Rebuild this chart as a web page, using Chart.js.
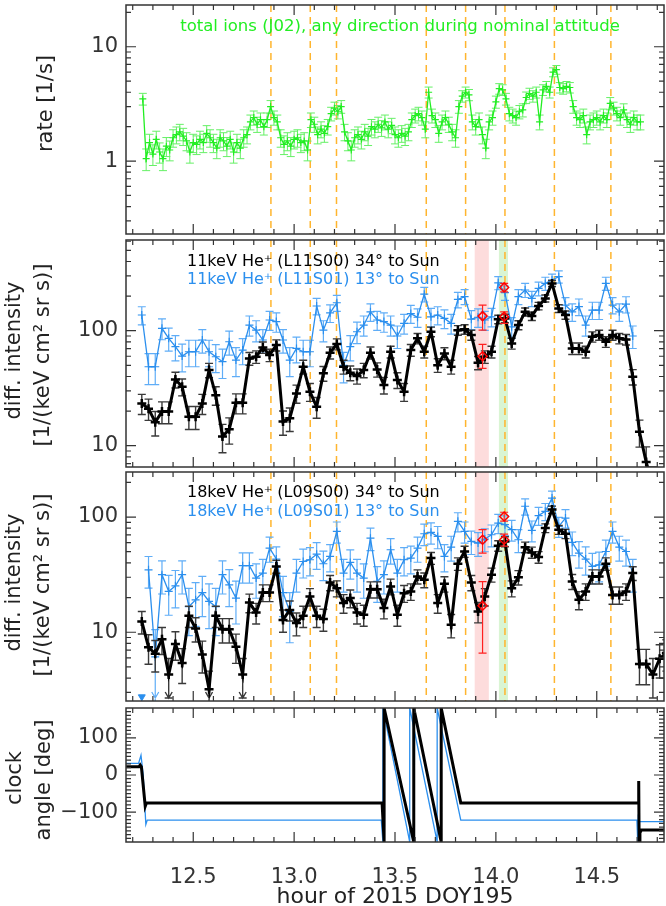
<!DOCTYPE html>
<html>
<head>
<meta charset="utf-8">
<title>DOY195 He+ intensities</title>
<script src="https://cdn.jsdelivr.net/npm/chart.js@4.4.1/dist/chart.umd.min.js"></script>
<style>
    body { margin: 0; background: #fff; }
    #page { position: relative; width: 666px; height: 906px; overflow: hidden; }
    .panel { position: absolute; left: 0; width: 666px; }
</style>
</head>
<body>
<div id="page">
    <div class="panel" style="top:1px;height:237px"><canvas id="rate-chart"></canvas></div>
    <div class="panel" style="top:236px;height:235px"><canvas id="he11-chart"></canvas></div>
    <div class="panel" style="top:468px;height:237px"><canvas id="he18-chart"></canvas></div>
    <div class="panel" style="top:704px;height:202px"><canvas id="clock-chart"></canvas></div>
</div>
<script>
// time axis (hour of day)
const X_MIN = 12.1667;
const X_MAX = 14.8333;
const HOUR_TICKS = [12.5, 13.0, 13.5, 14.0, 14.5];
const EVENT_HOURS = [12.885, 13.08, 13.21, 13.655, 13.85, 14.045, 14.29, 14.57];
const PINK_BAND = [13.895, 13.965];
const GREEN_BAND = [14.015, 14.06];

// J02 total ions, 1 minute cadence
const RATE_START = 12.25;
const RATE_STEP = 1 / 60;
const rateValues = [
    3.5, 1.05, 1.45, 1.15, 1.55, 1.2, 1.05, 1.35, 1.25, 1.6,
    1.7, 1.8, 1.65, 1.5, 1.2, 1.45, 1.4, 1.55, 1.45, 1.75,
    1.6, 1.45, 1.3, 1.6, 1.5, 1.35, 1.55, 1.2, 1.45, 1.3,
    1.6, 1.7, 2.2, 2.4, 2.1, 2.3, 2.0, 2.3, 3.0, 2.4,
    2.2, 1.6, 1.4, 1.5, 1.35, 1.55, 1.6, 1.45, 1.5, 1.25,
    2.3, 2.1, 1.7, 1.9, 1.75, 2.0, 2.6, 2.9, 2.7, 3.0,
    1.8, 1.5, 1.25, 1.6, 1.7, 1.55, 1.8, 1.65, 2.0, 1.9,
    2.1, 1.95, 2.2, 1.9, 2.05, 1.7, 1.6, 1.75, 1.65, 1.8,
    2.3, 2.5, 2.6, 2.4, 1.9, 4.0, 2.5, 2.3, 1.75, 2.2,
    2.4, 2.1, 1.8, 1.6, 3.0, 3.7, 4.0, 3.8, 2.2, 2.0,
    2.3, 1.7, 1.3, 2.2, 2.4, 3.3, 4.3, 4.2, 3.5, 2.6,
    2.5, 2.4, 2.7, 2.8, 3.6, 3.9, 3.7, 4.0, 2.2, 4.2,
    4.5, 4.0, 6.0, 6.3, 4.4, 4.3, 4.5, 4.4, 3.0, 2.4,
    2.3, 2.5, 1.7, 2.2, 2.3, 2.4, 2.2, 2.5, 2.3, 3.2,
    2.9, 2.6, 2.4, 2.8, 2.3, 2.1, 2.4, 2.2, 2.2
];

// He+ sector sweeps, 2 minute cadence
const SWEEP_START = 12.245;
const SWEEP_STEP = 1 / 30;
const he11Sun34 = [
    23.3, 21, 16, 19.8, 19.8, 37.7, 32.6, 17.9, 17.9, 23.3,
    45.5, 27.5, 12, 13.9, 23.6, 23.6, 57.4, 59.4, 71.6, 61.4,
    75, 16.2, 17.3, 28.5, 48.6, 29.5, 21.8, 42.6, 64.4, 76.6,
    48.6, 43, 40.4, 45.5, 64.4, 46, 33.7, 65.6, 37.3, 29.5,
    67.9, 85.8, 65.6, 98, 50.2, 63.5, 48.6, 101, 103, 91.7,
    52.7, 59.4, 65.6, 125.6, 128, 77.6, 112, 146, 134, 164,
    191, 258, 156, 137, 70.2, 70.2, 65.6, 88.7, 91.7, 80.2,
    91.7, 85.8, 84, 39.8, 13.2, 7.2, 4.5
];
const he11Sun13 = [
    137, 48.6, 48.6, 105, 85.8, 72.6, 60.2, 65.6, 65.6, 83,
    65.6, 59.4, 53.8, 80.2, 55.6, 67.9, 112, 101, 83, 124,
    120, 83, 55.6, 70.2, 65.6, 65.6, 164, 101, 143, 175,
    50, 72.6, 98, 112, 146, 124, 120, 112, 90, 116,
    141, 131, 208, 132, 137, 128, 116, 187, 198, 126,
    131, 124, 132, 261, 214, 108, 198, 226, 191, 233,
    258, 276, 295, 167, 146, 162, 112, 151, 151, 258,
    167, 146, 170, 90
];
const he18Sun34 = [
    12.4, 7.4, 6.5, 8.7, 4.3, 7.9, 5.4, 13.9, 10.8, 6.4,
    3.2, 13.9, 10.6, 10.6, 7.5, 4.3, 18.1, 14.8, 22.1, 22.1,
    37.3, 12.8, 15.6, 12, 13.9, 20.4, 13.9, 13, 27, 24.1,
    17.9, 19.8, 14.8, 14.2, 23.6, 23.6, 16.2, 25, 14.2, 21.8,
    22.6, 30.5, 28.5, 44, 17.9, 26.3, 11.6, 39.3, 50.2, 27,
    15.1, 20.4, 31.6, 56.4, 61.4, 24.1, 30, 54.8, 49.3, 44.9,
    80.2, 116, 77.6, 71.6, 27.6, 19.1, 22.6, 30.5, 30.5, 39.3,
    21.1, 21.1, 22.6, 32.6, 5.3, 5.3, 4.3, 5.9, 6.6
];
const he18Sun13 = [
    null, 34.8, 6.1, 31.6, 22.6, 25.3, 31.6, 16.7, 19.1, 22.1,
    18.5, 16.7, 31.6, 25.8, 19.8, 37.8, 37.8, 29.5, 32.6, 53.7,
    43.2, 22.1, 15.1, 32.6, 41.1, 42.6, 47.6, 39.3, 45.5, 75,
    32.6, 40.4, 32.6, 29.5, 65.6, 27.6, 31.6, 52, 32.6, 42.6,
    44, 53.7, 71.6, 73.6, 67.9, 45.5, 54.8, 91.7, 75, 61.4,
    59.4, 64.4, 70.2, 88.7, 85.8, 77.6, 63.5, 124, 76.6, 103,
    112, 146, 83, 98, 60.2, 48.6, 43.2, 37.3, 38.5, 50.2,
    75, 54.8, 50.2, 32.6
];
// points below the plotted range / upper limits
const he18Sun34Limits = [4, 10, 15];
const he18Sun13Limits = [2];
const he18Sun13Below = [{x: 12.245, y: 2.75}];

// highlighted samples (red diamonds) in the pink and green intervals
const markHours = [13.934, 13.934, 14.041, 14.041];
const he11Marks = [60, 134, 132, 238];
const he11MarksLo = [47, 101, 116, 218];
const he11MarksHi = [76, 167, 146, 258];
const he18Marks = [17, 63.5, 63.5, 101];
const he18MarksLo = [6.6, 48.6, 56, 92];
const he18MarksHi = [27.5, 77.6, 71, 110];

// clock angle of the two look directions
const clockHoursS00 = [12.1667, 12.231, 12.237, 12.243, 12.262, 12.268, 13.436, 13.446, 13.446, 13.593,
    13.593, 13.729, 13.729, 13.826, 14.705, 14.708, 14.710, 14.714, 14.721, 14.8333];
const clockS00 = [22, 22, 27, 22, -84, -75, -75, -180, 180, -180,
    180, -180, 180, -75, -75, -16, -180, -155, -148, -148];
const clockHoursS01 = [12.1667, 12.229, 12.241, 12.252, 12.265, 12.272, 13.432, 13.440, 13.440, 13.573,
    13.573, 13.709, 13.709, 13.826, 14.699, 14.703, 14.706, 14.712, 14.8333];
const clockS01 = [31, 31, 53, 0, -133, -121, -121, -180, 180, -180,
    180, -180, 180, -121, -121, -180, -106, -125, -125];

const FONT = 'DejaVu Sans';
const BLUE = '#2b8fee';
const GREEN = '#22ee22';

function sampled(start, step, values) {
    return values.map((v, i) => ({x: start + i * step, y: v}));
}

function pairs(xs, ys) {
    return xs.map((x, i) => ({x: x, y: ys[i]}));
}

function logMinor(min, max) {
    const out = [];
    for (let d = 0.1; d < 1000; d *= 10) {
        for (let k = 2; k <= 9; k++) {
            const v = Math.round(k * d * 1000) / 1000;
            if (v > min && v < max) out.push(v);
        }
    }
    return out;
}

const hourMinor = [];
for (let k = 122; k <= 148; k++) {
    if (k % 5 !== 0) hourMinor.push(k / 10);
}
const angleMinor = [];
for (let a = -170; a <= 170; a += 10) {
    if (a % 100 !== 0) angleMinor.push(a);
}

function noPadding(s) {
    s.paddingTop = 0;
    s.paddingBottom = 0;
    s.paddingLeft = 0;
    s.paddingRight = 0;
}

function drawErrors(chart, ds) {
    if (!ds.errColor) return;
    const {ctx, chartArea: a, scales: {x, y}} = chart;
    const cap = 4;
    ctx.save();
    ctx.beginPath();
    ctx.rect(a.left, a.top, a.width, a.height);
    ctx.clip();
    ctx.strokeStyle = ds.errColor;
    ctx.lineWidth = ds.errWidth || 1.2;
    ctx.beginPath();
    ds.data.forEach((p, i) => {
        if (p.y == null) return;
        let lo, hi;
        if (ds.errLo) {
            lo = ds.errLo[i];
            hi = ds.errHi[i];
        } else {
            // counting statistics: sigma grows with sqrt of the intensity
            const s = ds.errA * Math.sqrt(p.y);
            lo = p.y - s;
            hi = p.y + s;
        }
        const px = x.getPixelForValue(p.x);
        const top = y.getPixelForValue(hi);
        const bot = lo > 0 ? y.getPixelForValue(lo) : a.bottom + 20;
        ctx.moveTo(px, top);
        ctx.lineTo(px, bot);
        ctx.moveTo(px - cap, top);
        ctx.lineTo(px + cap, top);
        ctx.moveTo(px - cap, bot);
        ctx.lineTo(px + cap, bot);
    });
    (ds.arrows || []).forEach((i) => {
        const p = ds.data[i];
        const px = x.getPixelForValue(p.x);
        const end = a.bottom - 3;
        ctx.moveTo(px, y.getPixelForValue(p.y));
        ctx.lineTo(px, end);
        ctx.moveTo(px - 3.5, end - 6);
        ctx.lineTo(px, end);
        ctx.lineTo(px + 3.5, end - 6);
    });
    ctx.stroke();
    ctx.restore();
}

function decorPlugin(d) {
    return {
        id: 'decor',
        beforeDatasetsDraw(chart) {
            const {ctx, chartArea: a, scales: {x}} = chart;
            ctx.save();
            ctx.beginPath();
            ctx.rect(a.left, a.top, a.width, a.height);
            ctx.clip();
            (d.bands || []).forEach((b) => {
                const x0 = x.getPixelForValue(b.range[0]);
                const x1 = x.getPixelForValue(b.range[1]);
                ctx.fillStyle = b.color;
                ctx.fillRect(x0, a.top, x1 - x0, a.height);
            });
            if (d.dashes) {
                ctx.strokeStyle = '#ffb52e';
                ctx.lineWidth = 1.5;
                ctx.setLineDash([7, 5]);
                d.dashes.forEach((h) => {
                    const px = x.getPixelForValue(h);
                    ctx.beginPath();
                    ctx.moveTo(px, a.top);
                    ctx.lineTo(px, a.bottom);
                    ctx.stroke();
                });
            }
            ctx.restore();
        },
        beforeDatasetDraw(chart, args) {
            drawErrors(chart, chart.data.datasets[args.index]);
        },
        afterDraw(chart) {
            const {ctx, chartArea: a, scales: {x, y}} = chart;
            ctx.save();
            ctx.strokeStyle = '#333';
            ctx.lineWidth = 1.5;
            ctx.strokeRect(a.left, a.top, a.width, a.height);
            ctx.lineWidth = 1.2;
            ctx.beginPath();
            const xTick = (vals, len) => vals.forEach((v) => {
                const px = x.getPixelForValue(v);
                ctx.moveTo(px, a.bottom);
                ctx.lineTo(px, a.bottom - len);
                ctx.moveTo(px, a.top);
                ctx.lineTo(px, a.top + len);
            });
            const yTick = (vals, len) => vals.forEach((v) => {
                const py = y.getPixelForValue(v);
                ctx.moveTo(a.left, py);
                ctx.lineTo(a.left + len, py);
                ctx.moveTo(a.right, py);
                ctx.lineTo(a.right - len, py);
            });
            xTick(HOUR_TICKS, 10);
            xTick(hourMinor, 5);
            yTick(d.yMajor, 10);
            yTick(d.yMinor, 5);
            ctx.stroke();

            ctx.textBaseline = 'middle';
            (d.texts || []).forEach((t) => {
                ctx.font = t.size + 'px "' + FONT + '"';
                ctx.fillStyle = t.color;
                ctx.textAlign = t.align;
                ctx.fillText(t.text, t.x, a.top + t.dy);
            });
            ctx.fillStyle = '#222';
            ctx.font = '21px "' + FONT + '"';
            ctx.textAlign = 'center';
            d.yTitle.forEach((t) => {
                ctx.save();
                ctx.translate(t.x, a.top + t.dy);
                ctx.rotate(-Math.PI / 2);
                ctx.fillText(t.text, 0, 0);
                ctx.restore();
            });
            if (d.xTitle) {
                ctx.font = '22px "' + FONT + '"';
                ctx.fillText(d.xTitle, (a.left + a.right) / 2, a.top + d.xTitleDy);
            }
            ctx.restore();
        }
    };
}

function makePanel(id, d) {
    const fontTicks = {family: FONT, size: 21};
    return new Chart(document.getElementById(id), {
        type: 'line',
        data: {datasets: d.datasets},
        options: {
            animation: false,
            responsive: true,
            maintainAspectRatio: false,
            events: [],
            layout: {autoPadding: false, padding: {top: 4, bottom: d.showHours ? 0 : 4, left: 0, right: 2}},
            plugins: {legend: {display: false}, tooltip: {enabled: false}},
            scales: {
                x: {
                    type: 'linear',
                    min: X_MIN,
                    max: X_MAX,
                    bounds: 'data',
                    grid: {display: false, drawTicks: false},
                    border: {display: false},
                    afterBuildTicks: (s) => { s.ticks = HOUR_TICKS.map((v) => ({value: v})); },
                    afterFit: (s) => { s.height = d.showHours ? 64 : 0; noPadding(s); },
                    ticks: {
                        display: !!d.showHours,
                        padding: 23,
                        maxRotation: 0,
                        autoSkip: false,
                        color: '#333',
                        font: fontTicks,
                        callback: (v) => Number(v).toFixed(1)
                    }
                },
                y: {
                    type: d.yType,
                    min: d.yMin,
                    max: d.yMax,
                    bounds: 'data',
                    grid: {display: false, drawTicks: false},
                    border: {display: false},
                    afterBuildTicks: (s) => { s.ticks = d.yMajor.map((v) => ({value: v})); },
                    afterFit: (s) => { s.width = 126; noPadding(s); },
                    ticks: {
                        padding: 8,
                        autoSkip: false,
                        color: '#333',
                        font: fontTicks,
                        callback: (v) => (v < 0 ? '\u2212' + Math.abs(v) : String(v))
                    }
                }
            }
        },
        plugins: [decorPlugin(d)]
    });
}

const blackSeries = (data, errA, arrows) => ({
    data: data,
    borderColor: '#000',
    borderWidth: 3,
    pointStyle: 'cross',
    pointRadius: 4.5,
    pointBorderWidth: 2.5,
    pointBorderColor: '#000',
    errA: errA,
    errColor: '#3a3a3a',
    errWidth: 1.4,
    arrows: arrows
});
const blueSeries = (data, errA, arrows) => ({
    data: data,
    borderColor: BLUE,
    borderWidth: 1.3,
    pointStyle: 'cross',
    pointRadius: 4,
    pointBorderWidth: 1.2,
    pointBorderColor: BLUE,
    errA: errA,
    errColor: '#5fadf7',
    errWidth: 1.2,
    arrows: arrows
});
const redMarks = (hours, vals, lo, hi) => ({
    data: pairs(hours, vals),
    showLine: false,
    pointStyle: 'rectRot',
    pointRadius: 4.5,
    pointBorderWidth: 1.5,
    pointBorderColor: '#ff0000',
    pointBackgroundColor: 'rgba(0,0,0,0)',
    errLo: lo,
    errHi: hi,
    errColor: '#ff2020',
    errWidth: 1.2
});

const eventBands = [
    {range: PINK_BAND, color: '#fddcdc'},
    {range: GREEN_BAND, color: '#d9f5d3'}
];

makePanel('rate-chart', {
    yType: 'logarithmic', yMin: 0.23, yMax: 23.2,
    yMajor: [1, 10], yMinor: logMinor(0.23, 23.2),
    dashes: EVENT_HOURS,
    yTitle: [{text: 'rate [1/s]', x: 47, dy: 98.5}],
    texts: [{text: 'total ions (J02), any direction during nominal attitude', color: GREEN, x: 400, dy: 22, align: 'center', size: 16.5}],
    datasets: [{
        data: sampled(RATE_START, RATE_STEP, rateValues),
        borderColor: GREEN,
        borderWidth: 1.3,
        pointStyle: 'cross',
        pointRadius: 3.5,
        pointBorderWidth: 1.2,
        pointBorderColor: GREEN,
        errA: 0.22,
        errColor: '#66f066',
        errWidth: 1
    }]
});

makePanel('he11-chart', {
    yType: 'logarithmic', yMin: 6.53, yMax: 615,
    yMajor: [10, 100], yMinor: logMinor(6.53, 615),
    bands: eventBands,
    dashes: EVENT_HOURS,
    yTitle: [{text: 'diff. intensity', x: 15, dy: 110.5}, {text: '[1/(keV cm\u00b2 sr s)]', x: 44, dy: 115}],
    texts: [
        {text: '11keV He\u207a (L11S00) 34\u00b0 to Sun', color: '#000', x: 187, dy: 22, align: 'left', size: 16},
        {text: '11keV He\u207a (L11S01) 13\u00b0 to Sun', color: BLUE, x: 187, dy: 39.5, align: 'left', size: 16}
    ],
    datasets: [
        redMarks(markHours, he11Marks, he11MarksLo, he11MarksHi),
        blackSeries(sampled(SWEEP_START, SWEEP_STEP, he11Sun34), 0.96),
        blueSeries(sampled(SWEEP_START, SWEEP_STEP, he11Sun13), 2.1)
    ]
});

makePanel('he18-chart', {
    yType: 'logarithmic', yMin: 2.53, yMax: 246,
    yMajor: [10, 100], yMinor: logMinor(2.53, 246),
    bands: eventBands,
    dashes: EVENT_HOURS,
    yTitle: [{text: 'diff. intensity', x: 15, dy: 110.5}, {text: '[1/(keV cm\u00b2 sr s)]', x: 44, dy: 113}],
    texts: [
        {text: '18keV He\u207a (L09S00) 34\u00b0 to Sun', color: '#000', x: 187, dy: 21, align: 'left', size: 16},
        {text: '18keV He\u207a (L09S01) 13\u00b0 to Sun', color: BLUE, x: 187, dy: 39.5, align: 'left', size: 16}
    ],
    datasets: [
        redMarks(markHours, he18Marks, he18MarksLo, he18MarksHi),
        blackSeries(sampled(SWEEP_START, SWEEP_STEP, he18Sun34), 0.78, he18Sun34Limits),
        blueSeries(sampled(SWEEP_START, SWEEP_STEP, he18Sun13), 1.8, he18Sun13Limits),
        {
            data: he18Sun13Below,
            showLine: false,
            pointStyle: 'triangle',
            pointRotation: 180,
            pointRadius: 4,
            pointBackgroundColor: BLUE,
            pointBorderColor: BLUE
        }
    ]
});

makePanel('clock-chart', {
    yType: 'linear', yMin: -180, yMax: 180,
    yMajor: [-100, 0, 100], yMinor: angleMinor,
    showHours: true,
    yTitle: [{text: 'clock', x: 16, dy: 70}, {text: 'angle [deg]', x: 45, dy: 72}],
    xTitle: 'hour of 2015 DOY195',
    xTitleDy: 189,
    datasets: [
        {data: pairs(clockHoursS00, clockS00), borderColor: '#000', borderWidth: 3, pointRadius: 0},
        {data: pairs(clockHoursS01, clockS01), borderColor: BLUE, borderWidth: 1.3, pointRadius: 0}
    ]
});
</script>
</body>
</html>
